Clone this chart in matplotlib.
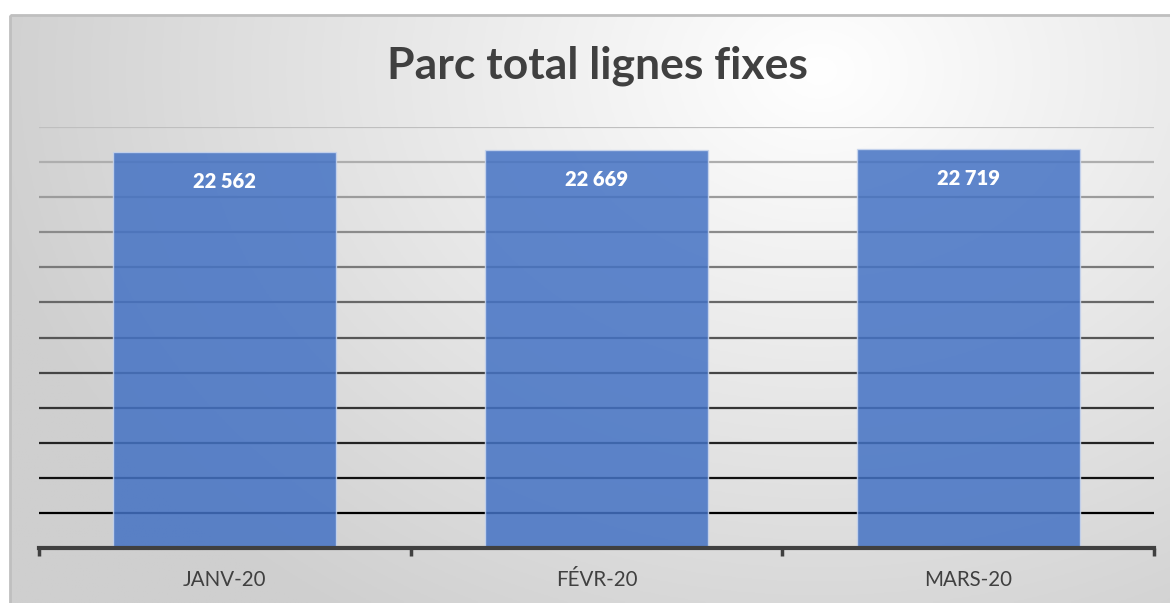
import numpy as np
import matplotlib.pyplot as plt
from matplotlib.colors import to_rgb
from matplotlib.patches import Rectangle

TITLE = "Parc total lignes fixes"
MOIS = ["JANV-20", "FÉVR-20", "MARS-20"]
PARC = [22562, 22669, 22719]
LABELS = ["22 562", "22 669", "22 719"]
Y_MAX = 24000
Y_STEP = 2000

W, H = 1170, 603
fig = plt.figure(figsize=(W / 100, H / 100), dpi=100)

# fond : dégradé radial clair au centre, gris vers les bords
bg = fig.add_axes([0, 0, 1, 1])
bg.set_xlim(0, W)
bg.set_ylim(H, 0)
bg.axis("off")
xx, yy = np.meshgrid(np.linspace(0, W, 400), np.linspace(0, H, 220))
d = np.sqrt(((xx - 820) / 900) ** 2 + ((yy - 70) / 700) ** 2)
d = np.clip(d / 0.95, 0, 1)
c0 = np.array([1.0, 1.0, 1.0])
c1 = np.array(to_rgb("#cfcfcf"))
img = c0 + (c1 - c0) * d[..., None]
im = bg.imshow(img, extent=[0, W, H, 0], aspect="auto", zorder=0)
clip = Rectangle((10, 15), W, H, transform=bg.transData)
im.set_clip_path(clip)
bg.add_patch(Rectangle((10, 15), W + 10, H + 10, fill=False,
                       edgecolor="#bfbfbf", linewidth=2, zorder=1))
bg.text(597, 66, TITLE, ha="center", va="center", fontsize=32,
        fontweight="bold", color="#404040", family="Lato")

ax = fig.add_axes([39 / W, 1 - 548 / H, (1154 - 39) / W, (548 - 127) / H])
ax.patch.set_alpha(0)
x = np.arange(len(MOIS))
ax.set_xlim(-0.5, len(MOIS) - 0.5)
ax.set_ylim(0, Y_MAX)

# lignes de quadrillage : du gris clair en haut au noir en bas
levels = np.arange(Y_STEP, Y_MAX + 1, Y_STEP)
top = np.array(to_rgb("#bfbfbf"))
bot = np.array([0.0, 0.0, 0.0])
for lv in levels:
    t = (lv - Y_STEP) / (Y_MAX - Y_STEP)
    col = bot + (top - bot) * t
    ax.axhline(lv, color=col, linewidth=1.6, zorder=1)

bars = ax.bar(x, PARC, width=0.6, color="#4472C4", alpha=0.85,
              edgecolor="#c9d6ee", linewidth=1, zorder=2)

for xi, v, lab in zip(x, PARC, LABELS):
    ax.annotate(lab, (xi, v), xytext=(0, -21), textcoords="offset points",
                ha="center", va="center", color="white", fontsize=14.5,
                fontweight="heavy", family="Lato", zorder=3)

for s in ["top", "right", "left"]:
    ax.spines[s].set_visible(False)
ax.spines["bottom"].set_color("#404040")
ax.spines["bottom"].set_linewidth(3)
ax.spines["bottom"].set_zorder(4)
ax.set_yticks([])

ax.set_xticks(x)
ax.set_xticklabels(MOIS, family="Lato", fontsize=14.8, color="#404040")
ax.tick_params(axis="x", which="major", length=0, pad=16)
ax.set_xticks(np.arange(-0.5, len(MOIS)), minor=True)
ax.tick_params(axis="x", which="minor", length=6, width=2.5, color="#404040")

fig.savefig("out.png", dpi=100)
